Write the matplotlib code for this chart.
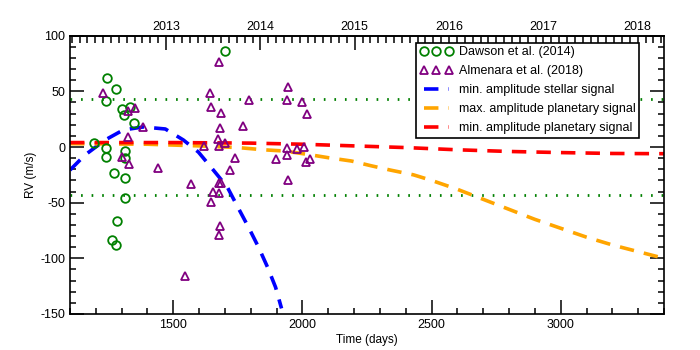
import numpy as np
import matplotlib
matplotlib.use("Agg")
import matplotlib.pyplot as plt
from matplotlib.ticker import MultipleLocator, FixedLocator

plt.rcParams['font.family'] = ['Liberation Sans', 'DejaVu Sans']
plt.rcParams['font.size'] = 9
plt.rcParams['axes.unicode_minus'] = False

# Dawson et al. (2014)
dawson_t = [1193, 1245, 1277, 1240, 1301, 1333, 1311, 1346, 1240, 1240, 1314, 1314,
            1272, 1314, 1314, 1281, 1264, 1279, 1702]
dawson_rv = [3.9, 62.3, 51.8, 41.3, 34.1, 35.7, 28.8, 21.3, -1.2, -9.3, -3.6, -10.2,
             -23.6, -27.9, -46.1, -66.5, -83.6, -88.0, 86.3]

# Almenara et al. (2018)
alm_t = [1229, 1326, 1350, 1381, 1324, 1301, 1330, 1439, 1570, 1546, 1676, 1641, 1792,
         1647, 1685, 1769, 1680, 1673, 1677, 1617, 1702, 1737, 1721, 1676, 1686, 1652,
         1676, 1647, 1682, 1678, 1945, 1942, 1999, 2019, 1941, 1977, 2006, 1941, 1896,
         2029, 2013, 1944]
alm_rv = [48.2, 32.3, 34.8, 18.2, 9.3, -8.7, -15.5, -19.1, -33.5, -116.1, 76.6, 48.8, 42.2,
          35.7, 30.3, 18.9, 16.8, 6.9, 0.9, 0.9, 3.3, -9.6, -20.7, -32.6, -32.1, -40.2,
          -41.6, -49.1, -70.7, -79.1, 54.2, 42.2, 40.2, 29.6, -0.6, -1.8, 0.3, -7.2, -11.1,
          -11.1, -13.2, -29.6]

# min. amplitude stellar signal
stellar_t = [1100, 1158, 1236, 1306, 1383, 1469, 1539, 1597, 1655, 1709, 1752, 1791,
             1830, 1865, 1896, 1919]
stellar_rv = [-20.7, -7.2, 6.3, 15.3, 18.0, 16.2, 6.3, -4.5, -20.7, -36.0, -55.0, -72.0,
              -90.0, -108.0, -126.0, -145.0]

# max. amplitude planetary signal
pmax_t = [1100, 1400, 1600, 1750, 1850, 1930, 2020, 2100, 2190, 2265, 2340, 2430, 2500,
          2600, 2700, 2800, 2900, 3000, 3100, 3200, 3300, 3400]
pmax_rv = [3.0, 2.5, 1.0, -0.5, -2.5, -3.6, -6.6, -9.6, -12.6, -16.8, -20.7, -25.0, -30.0,
           -38.0, -47.0, -56.0, -65.0, -73.0, -81.0, -88.0, -94.0, -100.0]

# min. amplitude planetary signal
pmin_t = [1100, 1500, 1800, 2000, 2200, 2400, 2600, 2800, 3000, 3200, 3400]
pmin_rv = [4.0, 4.0, 3.5, 2.5, 1.0, -0.5, -2.5, -4.0, -5.0, -5.8, -6.0]

jitter = 43.0

fig = plt.figure(figsize=(7, 3.5), dpi=100)
ax = fig.add_axes([0.1, 0.1029, 0.8486, 0.7951])

ax.axhline(jitter, color='#008000', lw=2, ls=(0, (0.6, 3.2)), zorder=1)
ax.axhline(-jitter, color='#008000', lw=2, ls=(0, (0.6, 3.2)), zorder=1)

ax.plot(dawson_t, dawson_rv, ls='none', marker='o', ms=6.2, mfc='none', mec='#008000',
        mew=1.3, label='Dawson et al. (2014)', zorder=3)
ax.plot(alm_t, alm_rv, ls='none', marker='^', ms=6, mfc='none', mec='#800080',
        mew=1.3, label='Almenara et al. (2018)', zorder=3)
ax.plot(stellar_t, stellar_rv, color='#0000ff', lw=2.6, ls=(0, (4, 2.8)),
        label='min. amplitude stellar signal', zorder=2)
ax.plot(pmax_t, pmax_rv, color='#ffa500', lw=2.6, ls=(0, (4, 2.8)),
        label='max. amplitude planetary signal', zorder=2)
ax.plot(pmin_t, pmin_rv, color='#ff0000', lw=2.6, ls=(0, (4, 2.8)),
        label='min. amplitude planetary signal', zorder=2)

ax.set_xlim(1100, 3400)
ax.set_ylim(-150, 100)
ax.xaxis.set_major_locator(MultipleLocator(500))
ax.xaxis.set_minor_locator(MultipleLocator(100))
ax.yaxis.set_major_locator(MultipleLocator(50))
ax.yaxis.set_minor_locator(MultipleLocator(10))
ax.tick_params(which='both', direction='in', top=False, right=True, width=1.1)
ax.tick_params(which='major', length=10, labelsize=9)
ax.tick_params(which='minor', length=4.5)
for s in ax.spines.values():
    s.set_linewidth(1.2)
ax.set_xlabel('Time (days)', labelpad=2, fontsize=8.5)
ax.set_ylabel('RV (m/s)', labelpad=2, fontsize=8.5)


def d2y(d):
    return 2013 + (np.asarray(d) - 1472.0) / 365.25


def y2d(y):
    return 1472.0 + (np.asarray(y) - 2013) * 365.25


sec = ax.secondary_xaxis('top', functions=(d2y, y2d))
sec.xaxis.set_major_locator(FixedLocator([2013, 2014, 2015, 2016, 2017, 2018]))
sec.xaxis.set_minor_locator(FixedLocator([2011 + m / 12.0 for m in range(12 * 9)]))
sec.tick_params(which='both', direction='in', width=1.1, pad=2, labelsize=9)
sec.tick_params(which='major', length=10)
sec.tick_params(which='minor', length=5)
sec.spines['top'].set_linewidth(1.2)

leg = ax.legend(loc='upper left', bbox_to_anchor=(0.5825, 0.975), borderaxespad=0,
                scatterpoints=3, numpoints=3, handlelength=2.6, fancybox=False,
                edgecolor='black', framealpha=1, fontsize=9, labelspacing=0.55,
                borderpad=0.3, handletextpad=0.5)
leg.get_frame().set_linewidth(1.2)

fig.savefig('out.png', dpi=100)
